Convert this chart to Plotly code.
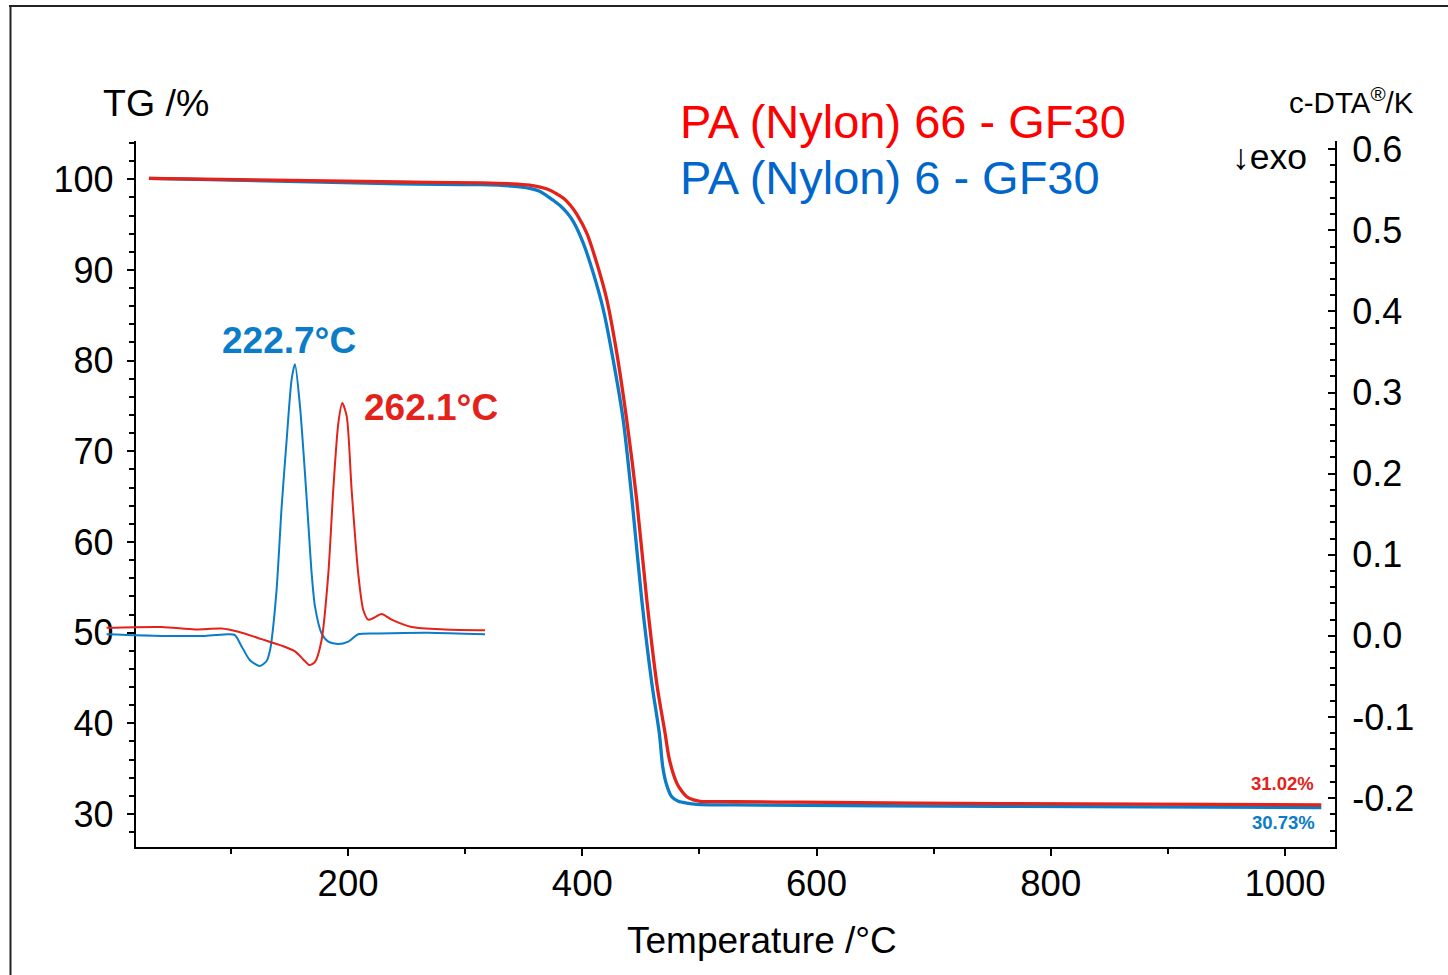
import plotly.graph_objects as go

# ---------------- data ----------------
# TG curves (temperature in °C, mass in %)
T_TG_RED = [30, 244, 313, 340, 355, 365, 372.5, 378, 384, 390, 395, 404, 412.5, 421, 429.5, 438, 446.5,
            455.1, 463.6, 470.7, 474.4, 480.7, 485, 489.2, 495, 500.6, 530, 586, 757, 1031]
TG_RED = [100.1, 99.7, 99.6, 99.5, 99.35, 99.1, 98.8, 98.4, 97.9, 97.1, 96.2, 94.0, 90.7, 86.7, 80.8,
          73.4, 64.6, 53.6, 44.4, 38.9, 36.0, 33.4, 32.5, 31.9, 31.55, 31.4, 31.35, 31.3, 31.15, 31.0]

T_TG_BLUE = [30, 244, 313, 340, 355, 363, 369.5, 375, 381, 387, 392.5, 401, 409.5, 418, 426.5, 435,
             442.5, 450.8, 459.4, 465.8, 468.7, 471.6, 476.4, 482, 489.2, 497.8, 530, 757, 1031]
TG_BLUE = [100.1, 99.5, 99.4, 99.25, 99.0, 98.7, 98.2, 97.7, 97.1, 96.3, 95.3, 92.9, 89.6, 85.6, 80.0,
           73.4, 64.6, 53.6, 44.4, 38.9, 35.2, 33.4, 31.9, 31.4, 31.2, 31.07, 31.0, 30.85, 30.7]

# c-DTA curves (temperature in °C on the DTA run, signal in K)
T_DTA_BLUE = [65.8, 111.7, 147.7, 167.1, 172.7, 178.3, 185.2, 193.5, 199.1, 201.9, 203.3, 207.4,
              211.6, 215.8, 219.9, 222.7, 226.9, 231.0, 233.8, 236.6, 239.4, 244.9, 250.5, 258.8,
              267.1, 275.4, 292.1, 333.7, 381.0]
DTA_BLUE = [0.002, 0.0, 0.0, 0.002, 0.001, -0.013, -0.030, -0.037, -0.031, -0.018, -0.005, 0.057,
            0.159, 0.242, 0.316, 0.335, 0.283, 0.201, 0.139, 0.077, 0.036, 0.003, -0.007, -0.010,
            -0.007, 0.002, 0.003, 0.004, 0.002]

T_DTA_RED = [65.8, 111.7, 139.5, 161.6, 175.5, 195.0, 211.6, 222.7, 229.6, 234.6, 239.4, 244.9,
             250.5, 254.6, 258.8, 262.1, 265.8, 269.9, 275.4, 279.6, 283.8, 288.0, 294.9, 303.2,
             319.9, 347.6, 381.0]
DTA_RED = [0.010, 0.011, 0.008, 0.009, 0.005, -0.004, -0.012, -0.019, -0.029, -0.036, -0.032, -0.005,
           0.077, 0.180, 0.262, 0.287, 0.271, 0.180, 0.077, 0.032, 0.020, 0.022, 0.027, 0.020,
           0.011, 0.008, 0.007]

TG_RANGE = [26.36, 104.22]
DTA_RANGE = [-0.2603, 0.6102]
T_RANGE = [18.7, 1042.7]
T_DTA_RANGE = [60.3, 1093.2]

DTA_TICKS = [-0.2, -0.1, 0.0, 0.1, 0.2, 0.3, 0.4, 0.5, 0.6]
DTA_TICK_LABELS = ["-0.2", "-0.1", "0.0", "0.1", "0.2", "0.3", "0.4", "0.5", "0.6"]

PEAK_BLUE = "222.7°C"
PEAK_RED = "262.1°C"
RES_RED = "31.02%"
RES_BLUE = "30.73%"

RED = "#e32219"
BLUE = "#0a7cc8"
FONT = "Liberation Sans, Arial, sans-serif"

# ---------------- geometry helpers ----------------
W_FIG, H_FIG = 1448, 975
L, R, T, B = 100, 1340, 141, 847
PW, PH = R - L, B - T


def px(x):
    return (x - L) / PW


def py(y):
    return (B - y) / PH


fig = go.Figure()

fig.add_trace(go.Scatter(x=T_TG_BLUE, y=TG_BLUE, xaxis="x", yaxis="y", mode="lines",
                         line=dict(color=BLUE, width=3.3, shape="spline", smoothing=0.8),
                         name="PA 6 TG", showlegend=False, hoverinfo="skip"))
fig.add_trace(go.Scatter(x=T_TG_RED, y=TG_RED, xaxis="x", yaxis="y", mode="lines",
                         line=dict(color=RED, width=3.3, shape="spline", smoothing=0.8),
                         name="PA 66 TG", showlegend=False, hoverinfo="skip"))
fig.add_trace(go.Scatter(x=T_DTA_BLUE, y=DTA_BLUE, xaxis="x2", yaxis="y2", mode="lines",
                         line=dict(color=BLUE, width=2, shape="spline", smoothing=0.7),
                         name="PA 6 DTA", showlegend=False, hoverinfo="skip"))
fig.add_trace(go.Scatter(x=T_DTA_RED, y=DTA_RED, xaxis="x2", yaxis="y2", mode="lines",
                         line=dict(color=RED, width=2, shape="spline", smoothing=0.7),
                         name="PA 66 DTA", showlegend=False, hoverinfo="skip"))

axis_common = dict(showline=True, linecolor="black", linewidth=2, showgrid=False, zeroline=False,
                   tickcolor="black", tickwidth=2)

fig.update_layout(
    width=W_FIG, height=H_FIG,
    margin=dict(l=L, r=W_FIG - R, t=T, b=H_FIG - B, pad=0),
    paper_bgcolor="white", plot_bgcolor="rgba(0,0,0,0)",
    font=dict(family=FONT, color="black"),
    showlegend=False,
    xaxis=dict(domain=[px(135.7), px(1335)], range=T_RANGE, anchor="y",
               ticks="outside", ticklen=7, tick0=0, dtick=200,
               minor=dict(dtick=100, tick0=0, ticks="outside", ticklen=5, tickwidth=2, tickcolor="black"),
               tickfont=dict(size=36.5, color="black"), ticklabelstandoff=-4, **axis_common),
    yaxis=dict(domain=[0, 1], range=TG_RANGE, anchor="x",
               ticks="outside", ticklen=7, tick0=0, dtick=10,
               minor=dict(dtick=2, tick0=0, ticks="outside", ticklen=5, tickwidth=2, tickcolor="black"),
               tickfont=dict(size=36, color="black"), ticklabelstandoff=6, **axis_common),
    yaxis2=dict(overlaying="y", side="right", anchor="x", range=DTA_RANGE,
                tickmode="array", tickvals=DTA_TICKS, ticktext=DTA_TICK_LABELS,
                ticks="inside", ticklen=7,
                minor=dict(tickmode="linear", tick0=0, dtick=0.02, ticks="inside", ticklen=5,
                           tickwidth=2, tickcolor="black"),
                tickfont=dict(size=36, color="black"), ticklabelstandoff=8, **axis_common),
    xaxis2=dict(domain=[0, 1], range=T_DTA_RANGE, anchor="y2", visible=False),
)

# frame
fig.add_shape(type="line", xref="paper", yref="paper", x0=px(9), x1=px(1470), y0=py(6), y1=py(6),
              line=dict(color="#222222", width=2))
fig.add_shape(type="line", xref="paper", yref="paper", x0=px(10.5), x1=px(10.5), y0=py(5), y1=py(995),
              line=dict(color="#222222", width=2))


def ann(text, x, y, size, color="black", xanchor="center", bold=False):
    if bold:
        text = "<b>" + text + "</b>"
    fig.add_annotation(text=text, xref="paper", yref="paper", x=px(x), y=py(y),
                       xanchor=xanchor, yanchor="middle", showarrow=False,
                       font=dict(size=size, color=color, family=FONT))


ann("TG /%", 155.5, 102.5, 37.5)
ann("c-DTA<sup>®</sup>/K", 1416, 100, 29.5, xanchor="right")
ann("↓exo", 1269, 157, 35.5)
ann("PA (Nylon) 66 - GF30", 678, 121.5, 47, color="#ff0000", xanchor="left")
ann("PA (Nylon) 6 - GF30", 678, 177, 47, color="#0066cc", xanchor="left")
ann(PEAK_BLUE, 289, 340, 37, color=BLUE, bold=True)
ann(PEAK_RED, 362, 407.5, 37, color=RED, xanchor="left", bold=True)
ann(RES_RED, 1316, 783, 18.5, color=RED, xanchor="right", bold=True)
ann(RES_BLUE, 1317, 822, 18.5, color=BLUE, xanchor="right", bold=True)
ann("Temperature /°C", 762, 940, 37)

fig.write_html("out.html")
